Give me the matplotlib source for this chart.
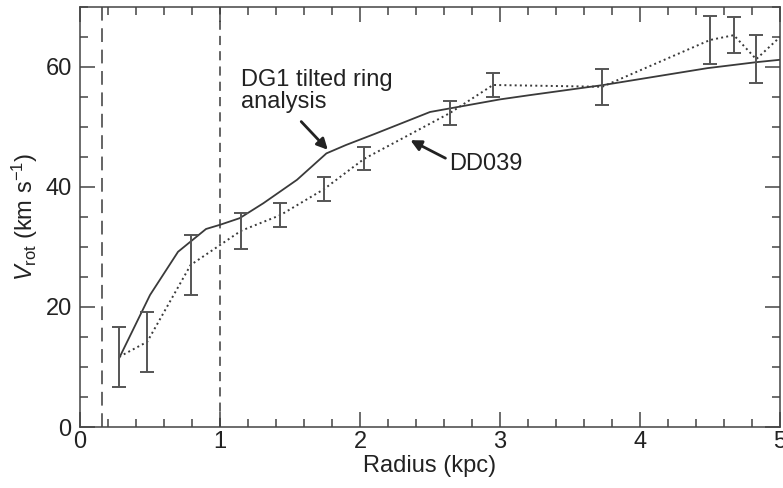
import matplotlib.pyplot as plt
from matplotlib.ticker import MultipleLocator

plt.rcParams['font.family'] = ['Liberation Sans', 'DejaVu Sans']
plt.rcParams['mathtext.fontset'] = 'custom'
plt.rcParams['mathtext.rm'] = 'Liberation Sans'
plt.rcParams['mathtext.it'] = 'Liberation Sans:italic'

# DG1 tilted ring analysis (solid curve)
dg1_r = [0.28, 0.50, 0.70, 0.90, 1.00, 1.14, 1.31, 1.55, 1.76, 1.90, 2.10, 2.50, 3.00, 3.21, 3.74, 4.48, 4.83, 5.00]
dg1_v = [11.5, 22.0, 29.2, 33.0, 33.7, 34.8, 37.3, 41.2, 45.6, 47.0, 48.8, 52.5, 54.6, 55.3, 57.0, 59.8, 60.8, 61.2]

# DD039 (dotted curve with error bars)
dd_r = [0.28, 0.48, 0.79, 1.15, 1.43, 1.74, 2.03, 2.64, 2.95, 3.73, 4.50, 4.67, 4.83, 5.00]
dd_v = [11.7, 14.2, 27.0, 32.7, 35.3, 39.6, 44.7, 52.3, 57.0, 56.7, 64.5, 65.3, 61.3, 65.0]
dd_err = [5.0, 5.0, 5.0, 3.0, 2.0, 2.0, 1.9, 2.0, 2.0, 3.0, 4.0, 3.0, 4.0, 0.0]

fig = plt.figure(figsize=(7.83, 4.88), dpi=100)
ax = fig.add_axes([0.1022, 0.125, 0.894, 0.8607])

ink = '#3a3a3a'
ax.plot(dg1_r, dg1_v, '-', color=ink, lw=1.3)
ax.plot(dd_r, dd_v, ':', color=ink, lw=1.4)
ax.errorbar(dd_r[:-1], dd_v[:-1], yerr=dd_err[:-1], fmt='none',
            ecolor='#555555', elinewidth=1.4, capsize=5, capthick=1.4)

# vertical dashed lines
ax.axvline(0.157, color=ink, lw=1.1, ls=(0, (9, 5)))
ax.axvline(1.0, color=ink, lw=1.1, ls=(0, (6, 4)))

arrow = dict(arrowstyle='-|>', color='#222222', lw=2,
             mutation_scale=16, shrinkA=0, shrinkB=0)
ax.text(1.15, 59.6, 'DG1 tilted ring\nanalysis', fontsize=17, color='#222222',
        ha='left', va='top', linespacing=0.95)
ax.annotate('', xy=(1.77, 46.2), xytext=(1.58, 50.9), arrowprops=arrow)
ax.text(2.64, 43.8, 'DD039', fontsize=17, color='#222222', ha='left', va='center')
ax.annotate('', xy=(2.36, 47.8), xytext=(2.61, 44.8), arrowprops=arrow)

ax.set_xlim(0, 5)
ax.set_ylim(0, 70)
ax.xaxis.set_major_locator(MultipleLocator(1))
ax.xaxis.set_minor_locator(MultipleLocator(0.2))
ax.yaxis.set_major_locator(MultipleLocator(20))
ax.yaxis.set_minor_locator(MultipleLocator(5))
ax.tick_params(which='both', direction='in', top=True, right=True,
               colors='#444444', labelcolor='#222222', labelsize=17, width=1.1)
ax.tick_params(which='major', length=11)
ax.tick_params(which='minor', length=6)
ax.tick_params(axis='y', pad=6)
ax.tick_params(axis='x', pad=3)
for s in ax.spines.values():
    s.set_color('#444444')
    s.set_linewidth(1.1)

ax.set_xlabel('Radius (kpc)', fontsize=17, color='#222222', labelpad=1)
ax.set_ylabel(r'$V_{\rm rot}$ (km s$^{-1}$)', fontsize=17, color='#222222', labelpad=4)

fig.savefig('out.png', dpi=100)
